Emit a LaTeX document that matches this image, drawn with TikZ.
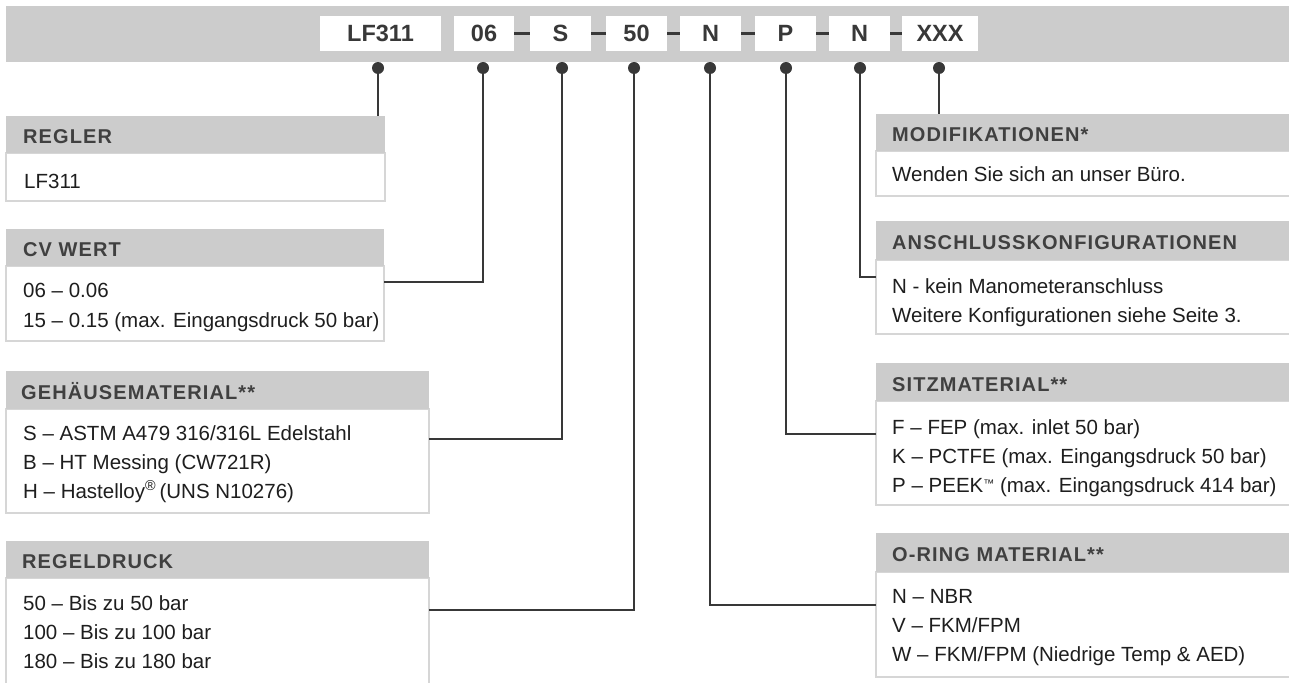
\documentclass[tikz,border=0pt]{standalone}
\usepackage{fontspec}
\setmainfont{Liberation Sans}
\newfontfamily\hdrfont{Liberation Sans}[LetterSpace=5.5]
\definecolor{barg}{HTML}{CCCCCC}
\definecolor{hdrg}{HTML}{CCCCCC}
\definecolor{bordg}{HTML}{D6D6D6}
\definecolor{linec}{HTML}{383838}
\definecolor{codetxt}{HTML}{383838}
\definecolor{hdrtxtc}{HTML}{404040}
\definecolor{bodytxtc}{HTML}{1E1E1E}
\newcommand{\tmark}{{\fontsize{11}{12}\selectfont\raisebox{5pt}{™}}}
\tikzset{
  barbox/.style={fill=barg, draw=none, inner sep=0, outer sep=0, anchor=north west},
  codebox/.style={fill=white, draw=none, inner sep=0, outer sep=0, minimum height=35pt,
    font=\fontsize{23.5}{28}\selectfont\bfseries, text=codetxt},
  codedash/.style={draw=linec, line width=2.5pt},
  dotn/.style={circle, fill=linec, draw=none, minimum size=12pt, inner sep=0, outer sep=0},
  hdrbox/.style={fill=hdrg, draw=none, inner sep=0, outer sep=0, anchor=north west},
  bodybox/.style={fill=white, draw=bordg, line width=1.3pt, inner sep=0, outer sep=0, anchor=north west},
  hdrtxt/.style={anchor=base west, inner sep=0, font=\hdrfont\bfseries\fontsize{20}{24}\selectfont, text=hdrtxtc},
  bodytxt/.style={anchor=base west, inner sep=0, font=\fontsize{20.5}{24}\selectfont, text=bodytxtc},
  conn/.style={draw=linec, line width=1.4pt},
}
\begin{document}
\begin{tikzpicture}[x=1pt,y=-1pt]
\useasboundingbox (0,0) rectangle (1289,682);
\fill[white] (0,0) rectangle (1289,682);

% top bar
\node[barbox, minimum width=1290, minimum height=56] (bar) at (6,6) {};

% code boxes
\node[codebox, minimum width=121] (c1) at (380.5,33.5) {LF311};
\node[codebox, minimum width=60]  (c2) at (484,33.5) {06};
\node[codebox, minimum width=61]  (c3) at (560.5,33.5) {S};
\node[codebox, minimum width=61]  (c4) at (636.5,33.5) {50};
\node[codebox, minimum width=61]  (c5) at (710.5,33.5) {N};
\node[codebox, minimum width=61]  (c6) at (785.5,33.5) {P};
\node[codebox, minimum width=61]  (c7) at (859.5,33.5) {N};
\node[codebox, minimum width=76]  (c8) at (940,33.5) {XXX};
\draw[codedash] (c2.east) -- (c3.west);
\draw[codedash] (c3.east) -- (c4.west);
\draw[codedash] (c4.east) -- (c5.west);
\draw[codedash] (c5.east) -- (c6.west);
\draw[codedash] (c6.east) -- (c7.west);
\draw[codedash] (c7.east) -- (c8.west);

% dot positions
\coordinate (p1) at (378,68);
\coordinate (p2) at (483,68);
\coordinate (p3) at (562,68);
\coordinate (p4) at (634,68);
\coordinate (p5) at (710,68);
\coordinate (p6) at (786,68);
\coordinate (p7) at (860,68);
\coordinate (p8) at (939,68);

% ---------- left boxes ----------
\node[bodybox, minimum width=379, minimum height=48]  (b1) at (6,153) {};
\node[hdrbox,  minimum width=379, minimum height=37]  (h1) at (6,116) {};
\node[hdrtxt] (ht1) at (23,143.5) {REGLER};
\node[bodytxt] (t1a) at (24,188) {LF311};

\node[bodybox, minimum width=378, minimum height=75]  (b2) at (6,266) {};
\node[hdrbox,  minimum width=378, minimum height=37]  (h2) at (6,229) {};
\node[hdrtxt] (ht2) at (23,256.5) {CV WERT};
\node[bodytxt] (t2a) at (23,297) {06 – 0.06};
\node[bodytxt] (t2b) at (23,327) {15 – 0.15 (max. Eingangsdruck 50 bar)};

\node[bodybox, minimum width=423, minimum height=104] (b3) at (6,409) {};
\node[hdrbox,  minimum width=423, minimum height=38]  (h3) at (6,371) {};
\node[hdrtxt] (ht3) at (21,399) {GEHÄUSEMATERIAL**};
\node[bodytxt] (t3a) at (23,440) {S – ASTM A479 316/316L Edelstahl};
\node[bodytxt] (t3b) at (23,469) {B – HT Messing (CW721R)};
\node[bodytxt] (t3c) at (23,498) {H – Hastelloy\textsuperscript{®}\,(UNS N10276)};

\node[bodybox, minimum width=423, minimum height=130] (b4) at (6,578) {};
\node[hdrbox,  minimum width=423, minimum height=37]  (h4) at (6,541) {};
\node[hdrtxt] (ht4) at (22,568.5) {REGELDRUCK};
\node[bodytxt] (t4a) at (23,610) {50 – Bis zu 50 bar};
\node[bodytxt] (t4b) at (23,639) {100 – Bis zu 100 bar};
\node[bodytxt] (t4c) at (23,668) {180 – Bis zu 180 bar};

% ---------- right boxes ----------
\node[bodybox, minimum width=430, minimum height=45]  (b5) at (876,151) {};
\node[hdrbox,  minimum width=430, minimum height=37]  (h5) at (876,114) {};
\node[hdrtxt] (ht5) at (892,141.5) {MODIFIKATIONEN*};
\node[bodytxt] (t5a) at (892,181) {Wenden Sie sich an unser Büro.};

\node[bodybox, minimum width=430, minimum height=74]  (b6) at (876,260) {};
\node[hdrbox,  minimum width=430, minimum height=39]  (h6) at (876,221) {};
\node[hdrtxt] (ht6) at (892,249.5) {ANSCHLUSSKONFIGURATIONEN};
\node[bodytxt] (t6a) at (892,293) {N - kein Manometeranschluss};
\node[bodytxt] (t6b) at (892,322) {Weitere Konfigurationen siehe Seite 3.};

\node[bodybox, minimum width=430, minimum height=104] (b7) at (876,401) {};
\node[hdrbox,  minimum width=430, minimum height=38]  (h7) at (876,363) {};
\node[hdrtxt] (ht7) at (892,391) {SITZMATERIAL**};
\node[bodytxt] (t7a) at (892,434) {F – FEP (max. inlet 50 bar)};
\node[bodytxt] (t7b) at (892,463) {K – PCTFE (max. Eingangsdruck 50 bar)};
\node[bodytxt] (t7c) at (892,492) {P – PEEK\tmark\ (max. Eingangsdruck 414 bar)};

\node[bodybox, minimum width=430, minimum height=105] (b8) at (876,572) {};
\node[hdrbox,  minimum width=430, minimum height=39]  (h8) at (876,533) {};
\node[hdrtxt] (ht8) at (892,561) {O-RING MATERIAL**};
\node[bodytxt] (t8a) at (892,603) {N – NBR};
\node[bodytxt] (t8b) at (892,632) {V – FKM/FPM};
\node[bodytxt] (t8c) at (892,661) {W – FKM/FPM (Niedrige Temp \& AED)};

% ---------- connectors ----------
\draw[conn] (p1) -- (p1 |- h1.north);
\draw[conn] (p2) |- ([yshift=-16pt]b2.north east);
\draw[conn] (p3) |- ([yshift=-30pt]b3.north east);
\draw[conn] (p4) |- ([yshift=-32pt]b4.north east);
\draw[conn] (p5) |- ([yshift=-33pt]b8.north west);
\draw[conn] (p6) |- ([yshift=-33pt]b7.north west);
\draw[conn] (p7) |- ([yshift=-17pt]b6.north west);
\draw[conn] (p8) -- (p8 |- h5.north);

% dots
\foreach \k in {1,...,8} \node[dotn] (d\k) at (p\k) {};
\end{tikzpicture}
\end{document}
